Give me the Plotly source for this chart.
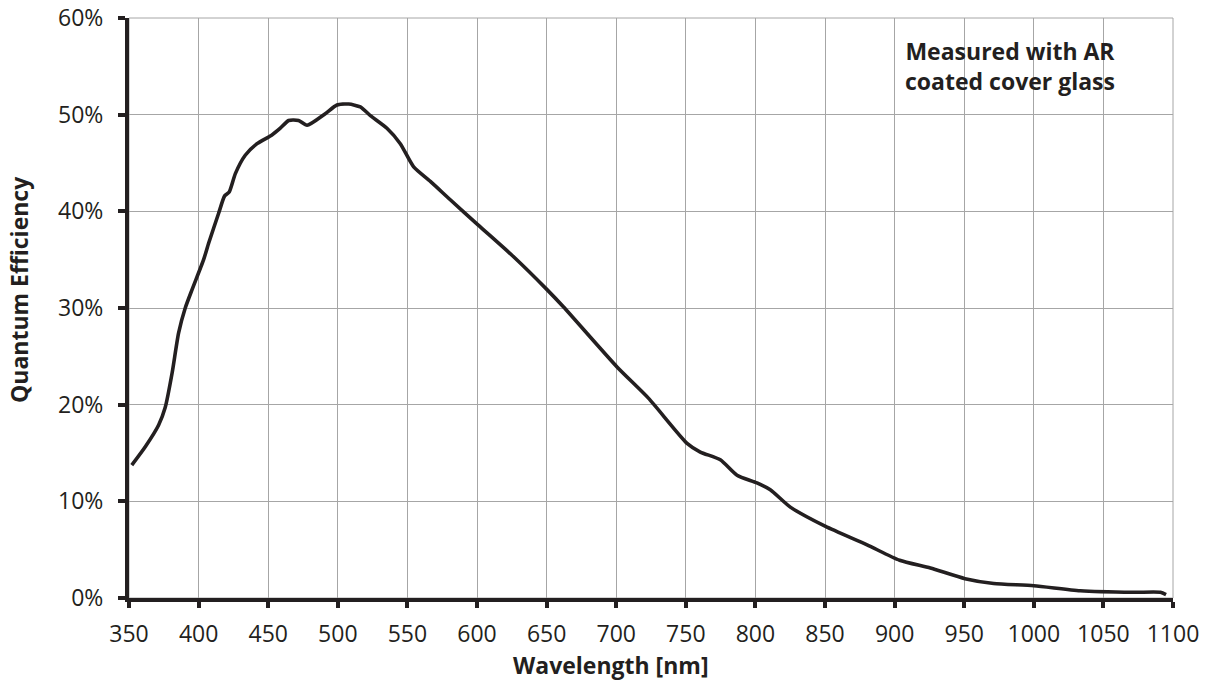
import plotly.graph_objects as go

wavelength_nm = [352, 361.7, 371.3, 376, 381, 385.6, 390.4, 395.3, 403.6, 407.2,
                 414.4, 418.7, 422, 426.4, 433.5, 442, 452.7, 458.7, 464.7, 471.8,
                 477.9, 491, 499.4, 507.8, 516.2, 523.4, 535.3, 544.9, 554.5, 566.5,
                 580.8, 600.7, 626.3, 650.3, 662.2, 700.6, 723.3, 750.9, 760.4, 774.8,
                 786.8, 801.1, 810.7, 825.1, 850.4, 880.2, 903.6, 925.7, 950.6, 971.2,
                 1000, 1033.4, 1071.7, 1091, 1095]
qe_percent = [13.75, 15.65, 17.9, 19.7, 23.3, 27.4, 30.0, 31.9, 35.0, 36.7,
              39.8, 41.6, 42.0, 43.9, 45.8, 47.0, 47.9, 48.6, 49.4, 49.4,
              48.9, 50.1, 51.0, 51.1, 50.8, 49.9, 48.6, 47.0, 44.6, 43.1,
              41.2, 38.6, 35.3, 31.9, 30.1, 23.9, 20.65, 16.0, 15.1, 14.3,
              12.7, 11.9, 11.2, 9.4, 7.4, 5.5, 3.9, 3.1, 2.0, 1.5,
              1.27, 0.75, 0.59, 0.59, 0.35]

x_ticks = list(range(350, 1101, 50))
y_ticks = list(range(0, 61, 10))

TEXT = "#231f20"
FONT = "Open Sans"
W, H = 1214, 686
ML, MR, MT, MB = 129, 41, 18, 88
PW, PH = W - ML - MR, H - MT - MB

fig = go.Figure()
fig.add_trace(go.Scatter(
    x=wavelength_nm, y=qe_percent, mode="lines",
    line=dict(color=TEXT, width=3.6, shape="spline", smoothing=0.6),
    hoverinfo="skip", showlegend=False,
))

fig.add_shape(type="rect", xref="paper", yref="paper", x0=0, y0=0, x1=1, y1=1,
              line=dict(color="#a6a6a6", width=1), layer="below")

def px_x(p):
    return (p - ML) / PW

def px_y(p):
    return (H - MB - p) / PH

fig.update_layout(
    width=W, height=H,
    margin=dict(l=ML, r=MR, t=MT, b=MB),
    paper_bgcolor="white", plot_bgcolor="white",
    font=dict(family=FONT, size=23, color=TEXT),
    xaxis=dict(
        range=[350, 1100], tickvals=x_ticks, ticktext=[str(v) for v in x_ticks],
        showgrid=True, gridcolor="#a6a6a6", gridwidth=1,
        showline=True, linecolor=TEXT, linewidth=4,
        ticks="outside", ticklen=6, tickwidth=4, tickcolor=TEXT,
        tickfont=dict(family=FONT, size=23, color=TEXT),
        ticklabelstandoff=6,
        zeroline=False, automargin=False,
    ),
    yaxis=dict(
        range=[0, 60], tickvals=y_ticks, ticktext=[f"{v}%" for v in y_ticks],
        showgrid=True, gridcolor="#a6a6a6", gridwidth=1,
        showline=True, linecolor=TEXT, linewidth=4,
        ticks="outside", ticklen=7, tickwidth=4, tickcolor=TEXT,
        tickfont=dict(family=FONT, size=23, color=TEXT),
        ticklabelstandoff=10,
        zeroline=False, automargin=False,
    ),
    annotations=[
        dict(x=px_x(1010), y=px_y(33), xref="paper", yref="paper",
             xanchor="center", yanchor="top",
             text="<b>Measured with AR<br>coated cover glass</b>", showarrow=False,
             font=dict(family=FONT, size=23, color=TEXT), align="center"),
        dict(x=px_x(611), y=px_y(665), xref="paper", yref="paper",
             xanchor="center", yanchor="middle", text="<b>Wavelength [nm]</b>",
             showarrow=False, font=dict(family=FONT, size=23, color=TEXT)),
        dict(x=px_x(19), y=px_y(290), xref="paper", yref="paper",
             xanchor="center", yanchor="middle", text="<b>Quantum Efficiency</b>",
             textangle=-90, showarrow=False, font=dict(family=FONT, size=23, color=TEXT)),
    ],
)

fig.write_html("out.html")
